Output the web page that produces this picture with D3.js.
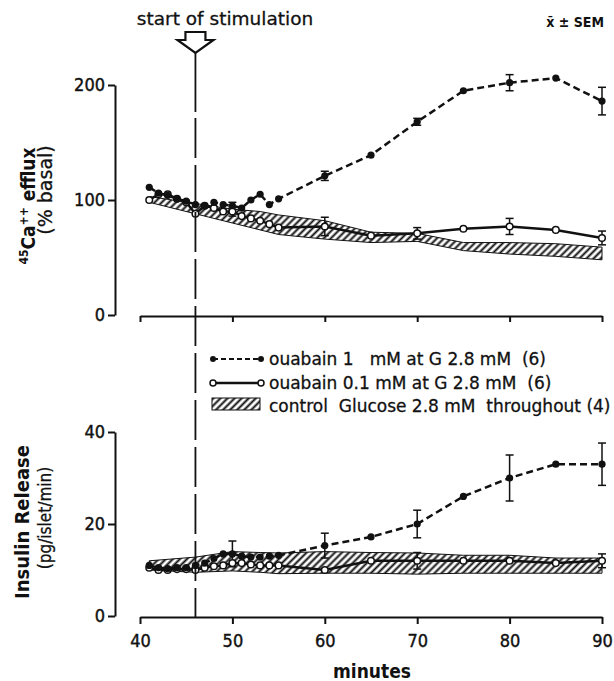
<!DOCTYPE html>
<html>
<head>
<meta charset="utf-8">
<script src="https://cdn.jsdelivr.net/npm/d3@7"></script>
<style>
body { margin: 0; background: #fff; }
text { font-family: "DejaVu Sans Condensed", "DejaVu Sans", sans-serif; fill: #111; }
.wide { font-family: "DejaVu Sans", sans-serif; }
</style>
</head>
<body>
<svg id="chart" width="614" height="681"></svg>
<script>
// minutes at which samples were taken
var sampleMinutes = [41,42,43,44,45,46,47,48,49,50,51,52,53,54,55,60,65,70,75,80,85,90];
var ctrlMinutes = [41,46,50,53,55,60,65,70,75,80,85,90];
var errMinutes = [50,60,70,80,90];
var xTicks = [40,50,60,70,80,90];

// 45Ca efflux (% basal)
var caOuabain1 = [111,106,104,101,99,96,95,98,96,95,93,100,105,96,101,121,139,168,195,202,206,186];
var caOuabain01 = [100,105,105,101,98,88,95,93,90,90,86,84,82,79,76,77,69,71,75,77,74,67];
var caCtrlHigh = [103,97,92,90,87,82,72,71,63,63,62,59];
var caCtrlLow = [98,88,80,74,70,66,63,64,56,53,51,48];
var caErrOuabain1 = [3,4,3,7,12];
var caErrOuabain01 = [4,8,5,7,6];
var caTicks = [0,100,200];

// insulin release (pg/islet/min)
var insOuabain1 = [11,10.5,10.3,10.5,10.5,11,11.5,12.5,13.5,13.5,13,12.8,12.8,13,13.2,15.3,17.2,20,26,30,33,33];
var insOuabain01 = [10.5,10,10,10.2,10.2,10,10.5,10.8,11,11.5,11.5,11.2,11,11,11,10,12,12,12,12,11.5,12];
var insCtrlHigh = [12,12.8,14,13.8,13.7,14,13.8,13.7,13.2,13.2,12.6,12.6];
var insCtrlLow = [10,9.5,9.8,9.5,9.2,9.3,9.3,9.1,9.3,9.3,9.3,9.3];
var insErrOuabain1 = [2.8,2.7,3,5,4.6];
var insErrOuabain01 = [0,0,1.8,0,1.5];
var insTicks = [0,20,40];

var legendLabels = ["ouabain 1   mM at G 2.8 mM  (6)",
                    "ouabain 0.1 mM at G 2.8 mM  (6)",
                    "control  Glucose 2.8 mM  throughout (4)"];

var svg = d3.select("#chart");

var xScale = d3.scaleLinear().domain([40, 90]).range([140, 602]);
var yCa = d3.scaleLinear().domain([0, 200]).range([315, 85]);
var yIns = d3.scaleLinear().domain([0, 40]).range([616, 432]);

// hatch pattern for the control band
var pat = svg.append("defs").append("pattern")
  .attr("id", "hatch")
  .attr("patternUnits", "userSpaceOnUse")
  .attr("width", 5).attr("height", 5)
  .attr("patternTransform", "rotate(45)");
pat.append("rect").attr("width", 5).attr("height", 5).attr("fill", "#fff");
pat.append("line").attr("x1", 2.5).attr("y1", 0).attr("x2", 2.5).attr("y2", 5)
  .attr("stroke", "#111").attr("stroke-width", 2);

function drawPanel(y, ctrlHigh, ctrlLow, s1, s01, e1, e01) {
  var g = svg.append("g");

  var band = ctrlMinutes.map(function (m, i) { return {m: m, hi: ctrlHigh[i], lo: ctrlLow[i]}; });
  var area = d3.area()
    .x(function (d) { return xScale(d.m); })
    .y0(function (d) { return y(d.lo); })
    .y1(function (d) { return y(d.hi); });
  g.append("path").datum(band)
    .attr("d", area)
    .attr("fill", "url(#hatch)")
    .attr("stroke", "#111").attr("stroke-width", 1);

  var line = d3.line()
    .x(function (d, i) { return xScale(sampleMinutes[i]); })
    .y(function (d) { return y(d); });

  // 0.1 mM: solid line, open circles
  g.append("path").datum(s01)
    .attr("d", line).attr("fill", "none")
    .attr("stroke", "#111").attr("stroke-width", 2.5);

  // 1 mM: dashed line, filled dots
  g.append("path").datum(s1)
    .attr("d", line).attr("fill", "none")
    .attr("stroke", "#111").attr("stroke-width", 2.5)
    .attr("stroke-dasharray", "7,4");

  // error bars
  function errBars(series, errs) {
    errMinutes.forEach(function (m, i) {
      if (!errs[i]) return;
      var v = series[sampleMinutes.indexOf(m)];
      var cx = xScale(m);
      g.append("line").attr("x1", cx).attr("x2", cx)
        .attr("y1", y(v - errs[i])).attr("y2", y(v + errs[i]))
        .attr("stroke", "#111").attr("stroke-width", 1.5);
      [v - errs[i], v + errs[i]].forEach(function (t) {
        g.append("line").attr("x1", cx - 4).attr("x2", cx + 4)
          .attr("y1", y(t)).attr("y2", y(t))
          .attr("stroke", "#111").attr("stroke-width", 1.5);
      });
    });
  }
  errBars(s01, e01);
  errBars(s1, e1);

  g.selectAll(".open").data(s01).enter().append("circle")
    .attr("cx", function (d, i) { return xScale(sampleMinutes[i]); })
    .attr("cy", function (d) { return y(d); })
    .attr("r", 3.3)
    .attr("fill", "#fff").attr("stroke", "#111").attr("stroke-width", 1.5);

  g.selectAll(".filled").data(s1).enter().append("circle")
    .attr("cx", function (d, i) { return xScale(sampleMinutes[i]); })
    .attr("cy", function (d) { return y(d); })
    .attr("r", 3.6)
    .attr("fill", "#111");
}

drawPanel(yCa, caCtrlHigh, caCtrlLow, caOuabain1, caOuabain01, caErrOuabain1, caErrOuabain01);
drawPanel(yIns, insCtrlHigh, insCtrlLow, insOuabain1, insOuabain01, insErrOuabain1, insErrOuabain01);

// axes
function styleAxis(sel, size) {
  sel.selectAll("path, line").attr("stroke", "#111").attr("stroke-width", 2);
  sel.selectAll("text").attr("font-size", size)
    .attr("font-family", "DejaVu Sans Condensed, DejaVu Sans, sans-serif")
    .attr("fill", "#111").attr("stroke", "#111").attr("stroke-width", 0.4);
}

var caAxis = svg.append("g").attr("transform", "translate(115,0)")
  .call(d3.axisLeft(yCa).tickValues(caTicks).tickSize(7).tickSizeOuter(0).tickPadding(3));
styleAxis(caAxis, 18);

var insAxis = svg.append("g").attr("transform", "translate(115,0)")
  .call(d3.axisLeft(yIns).tickValues(insTicks).tickSize(7).tickSizeOuter(0).tickPadding(3));
styleAxis(insAxis, 18);

var topX = svg.append("g").attr("transform", "translate(0,316)")
  .call(d3.axisBottom(xScale).tickValues(xTicks).tickFormat("").tickSize(6).tickSizeOuter(0));
styleAxis(topX, 18);

var botX = svg.append("g").attr("transform", "translate(0,617)")
  .call(d3.axisBottom(xScale).tickValues(xTicks).tickSize(7).tickSizeOuter(0).tickPadding(10));
styleAxis(botX, 18);

// start of stimulation marker
var xs = xScale(46);
svg.append("path")
  .attr("d", "M" + (xs - 10) + ",32 H" + (xs + 10) + " V40 H" + (xs + 18) + " L" + xs + ",53 L" + (xs - 18) + ",40 H" + (xs - 10) + " Z")
  .attr("fill", "#fff").attr("stroke", "#111").attr("stroke-width", 2.2).attr("stroke-linejoin", "miter");
svg.append("line").attr("x1", xs).attr("x2", xs).attr("y1", 53).attr("y2", 112)
  .attr("stroke", "#111").attr("stroke-width", 1.8);
svg.append("line").attr("x1", xs).attr("x2", xs).attr("y1", 118).attr("y2", 617)
  .attr("stroke", "#111").attr("stroke-width", 1.8).attr("stroke-dasharray", "40,7");

svg.append("text").attr("class", "wide").attr("x", 225).attr("y", 25).attr("text-anchor", "middle")
  .attr("font-size", 18.5).attr("stroke", "#111").attr("stroke-width", 0.3).text("start of stimulation");
svg.append("text").attr("x", 604).attr("y", 27).attr("text-anchor", "end")
  .attr("font-size", 14).attr("font-weight", "bold").text("x\u0304 \u00b1 SEM");

// y axis titles
var caTitle = svg.append("text")
  .attr("transform", "translate(35,206) rotate(-90)")
  .attr("text-anchor", "middle").attr("font-size", 19).attr("font-weight", "bold");
caTitle.append("tspan").attr("font-size", 12).attr("dy", -7).text("45");
caTitle.append("tspan").attr("dy", 7).text("Ca");
caTitle.append("tspan").attr("font-size", 12).attr("dy", -7).text("++");
caTitle.append("tspan").attr("dy", 7).text(" efflux");
svg.append("text").attr("class", "wide").attr("transform", "translate(52,190) rotate(-90)")
  .attr("text-anchor", "middle").attr("font-size", 19).attr("stroke", "#111").attr("stroke-width", 0.3)
  .text("(% basal)");

svg.append("text").attr("transform", "translate(29,522) rotate(-90)")
  .attr("text-anchor", "middle").attr("font-size", 20).attr("font-weight", "bold").text("Insulin Release");
svg.append("text").attr("transform", "translate(51,518) rotate(-90)")
  .attr("text-anchor", "middle").attr("font-size", 17).attr("stroke", "#111").attr("stroke-width", 0.3)
  .text("(pg/islet/min)");

svg.append("text").attr("x", 372).attr("y", 678).attr("text-anchor", "middle")
  .attr("font-size", 19).attr("font-weight", "bold").text("minutes");

// legend
var lg = svg.append("g");
lg.append("line").attr("x1", 213).attr("x2", 261).attr("y1", 359).attr("y2", 359)
  .attr("stroke", "#111").attr("stroke-width", 2).attr("stroke-dasharray", "5,3");
[213, 261].forEach(function (cx) {
  lg.append("circle").attr("cx", cx).attr("cy", 359).attr("r", 3).attr("fill", "#111");
});
lg.append("line").attr("x1", 213).attr("x2", 261).attr("y1", 383).attr("y2", 383)
  .attr("stroke", "#111").attr("stroke-width", 2.5);
[213, 261].forEach(function (cx) {
  lg.append("circle").attr("cx", cx).attr("cy", 383).attr("r", 3)
    .attr("fill", "#fff").attr("stroke", "#111").attr("stroke-width", 1.5);
});
lg.append("rect").attr("x", 212).attr("y", 398).attr("width", 48).attr("height", 12)
  .attr("fill", "url(#hatch)").attr("stroke", "#111").attr("stroke-width", 1);
lg.selectAll(".lbl").data(legendLabels).enter().append("text")
  .attr("class", "wide")
  .attr("x", 269)
  .attr("y", function (d, i) { return 365 + i * 23.5; })
  .attr("font-size", 17)
  .attr("stroke", "#111").attr("stroke-width", 0.3)
  .style("white-space", "pre")
  .text(function (d) { return d; });
</script>
</body>
</html>
